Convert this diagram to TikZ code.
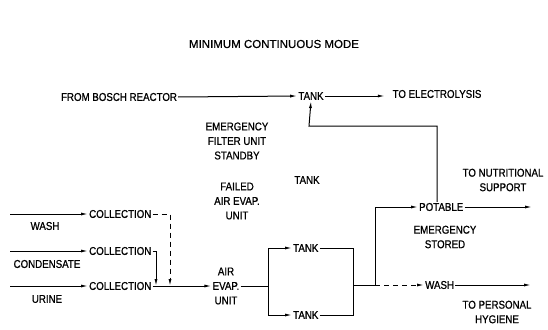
\documentclass[tikz,border=0pt]{standalone}
\usepackage{fontspec}
\setmainfont{Liberation Sans}[FakeStretch=0.86, FakeBold=0.8]
\newfontfamily\titlefont{Liberation Sans}[FakeBold=0.6]
\usetikzlibrary{arrows.meta,positioning}
\tikzset{
    lbl/.style={font=\fontsize{11.3}{14.5}\selectfont, inner sep=1pt, align=center},
    flow/.style={line width=1pt, -{Latex[length=7pt,width=3pt]}},
    pipe/.style={line width=1pt},
    dashline/.style={dash pattern=on 5pt off 4pt}
}

\begin{document}
\begin{tikzpicture}[x=1pt, y=-1pt]
    \useasboundingbox (0,0) rectangle (548,329);
    % Title
    \node[lbl, font=\titlefont\fontsize{11.5}{14}\selectfont] (title) at (274,44) {MINIMUM CONTINUOUS MODE};

    % --- Upper line: Bosch water to electrolysis ---
    \node[lbl] (bosch) at (119,97) {FROM BOSCH REACTOR};
    \node[lbl] (tankT) at (311,96) {TANK};
    \node[lbl] (elec) at (437,94) {TO ELECTROLYSIS};
    \coordinate (ret) at (309,126);
    \draw[flow] (bosch.east) -- (tankT.west);
    \draw[flow] (tankT.east) -- ++(60,0) coordinate (elecIn);

    % --- Notes ---
    \node[lbl] (filter) at (237,141) {EMERGENCY\\FILTER UNIT\\STANDBY};
    \node[lbl] (failed) at (237,201) {FAILED\\AIR EVAP.\\UNIT};
    \node[lbl] (tankF) at (307,180) {TANK};

    % --- Collection ---
    \coordinate (inW) at (10,214);
    \coordinate (inC) at (10,251);
    \coordinate (inU) at (10,286);
    \node[lbl, anchor=west] (colW) at (88,214) {COLLECTION};
    \node[lbl, anchor=west] (colC) at (88,251) {COLLECTION};
    \node[lbl, anchor=west] (colU) at (88,286) {COLLECTION};
    \node[lbl] (washL) at (45,226) {WASH};
    \node[lbl] (condL) at (47,264) {CONDENSATE};
    \node[lbl] (urineL) at (47,299) {URINE};
    \draw[flow] (inW) -- (colW.west);
    \draw[flow] (inC) -- (colC.west);
    \draw[flow] (inU) -- (colU.west);

    % --- Air evaporation unit and tanks ---
    \node[lbl] (airevap) at (226,286) {AIR\\EVAP.\\UNIT};
    \coordinate (dropW) at (170,286);
    \coordinate (dropC) at (156,286);
    \draw[flow, dashline] (colW.east) -| (dropW);
    \draw[flow] (colC.east) -| (dropC);
    \draw[flow] (colU.east) -- (airevap.west);

    \node[lbl, anchor=west] (tank1) at (292,248) {TANK};
    \node[lbl, anchor=west] (tank2) at (292,315) {TANK};
    \draw[pipe] (airevap.east) -- ++(28,0) coordinate (split);
    \draw[flow] (split) |- (tank1.west);
    \draw[flow] (split) |- (tank2.west);
    \coordinate (merge) at (353,285);
    \draw[pipe] (tank1.east) -| (merge);
    \draw[pipe] (tank2.east) -| (merge);
    \draw[pipe] (merge) -- ++(22,0) coordinate (branch);

    % --- Outputs ---
    \node[lbl, anchor=west] (potable) at (418,207) {POTABLE};
    \node[lbl, anchor=west] (washO) at (424,285) {WASH};
    \coordinate (outN) at (532,207);
    \coordinate (outH) at (531,285);
    \draw[flow] (branch) |- (potable.west);
    \draw[flow, dashline] (branch) -- (washO.west);
    \draw[flow] (potable.east) -- (outN);
    \draw[flow] (washO.east) -- (outH);
    \draw[flow] (potable.north -| 437,0) |- (ret) -- (tankT.south);

    \node[lbl] (nutri) at (503,180) {TO NUTRITIONAL\\SUPPORT};
    \node[lbl] (stored) at (445,237) {EMERGENCY\\STORED};
    \node[lbl] (hyg) at (497,312) {TO PERSONAL\\HYGIENE};
\end{tikzpicture}
\end{document}
